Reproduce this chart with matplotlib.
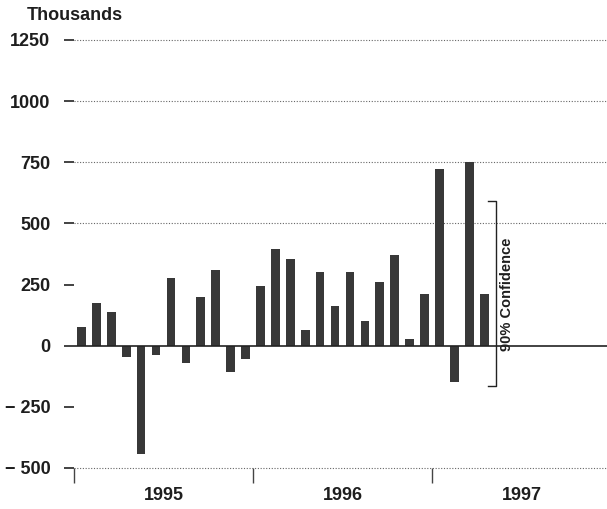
import numpy as np
import pandas as pd
import matplotlib
matplotlib.use('Agg')
import matplotlib.pyplot as plt

# monthly change, thousands (Jan 1995 - Apr 1997)
months = pd.period_range('1995-01', '1997-04', freq='M')
changes = [75, 173, 137, -45, -443, -39, 276, -71, 199, 308, -109, -54,
           243, 396, 356, 65, 302, 161, 300, 102, 262, 371, 29, 213,
           724, -150, 752, 212]
years = ['1995', '1996', '1997']
y_ticks = [-500, -250, 0, 250, 500, 750, 1000, 1250]
grid_levels = [-500, 500, 750, 1000, 1250]

# 90% confidence band drawn around the latest month
conf_center = changes[-1]
conf_half = 378

plt.rcParams['font.family'] = ['Liberation Sans', 'DejaVu Sans']
plt.rcParams['font.weight'] = 'bold'
text_color = '#1e1e1e'

fig = plt.figure(figsize=(6.07, 5.09), dpi=100)
ax = fig.add_axes([74 / 607, 1 - 468 / 509, 533 / 607, 428 / 509])

x = np.arange(len(months)) + 0.5
ax.bar(x, changes, width=0.58, color='#383838', zorder=3)

ax.set_xlim(0, 533 / (358 / 24))
ax.set_ylim(-500, 1250)

for lvl in grid_levels:
    ax.axhline(lvl, color='#666666', linestyle=(0, (1, 1.5)), linewidth=0.8,
               zorder=1, clip_on=False)
ax.axhline(0, color='#222222', linewidth=1.2, zorder=4)

for s in ax.spines.values():
    s.set_visible(False)

ax.set_yticks(y_ticks)
ax.set_yticklabels([f'{v:d}'.replace('-', '\u2212 ') for v in y_ticks])
ax.tick_params(axis='y', length=7, width=1.2, color='#222222', pad=10,
               labelsize=13, labelcolor=text_color)

# year separators as major ticks, year names centred as minor ticks
ax.set_xticks([0, 12, 24])
ax.set_xticklabels([])
ax.set_xticks([6, 18, 30], minor=True)
ax.set_xticklabels(years, minor=True)
ax.tick_params(axis='x', which='major', length=11, width=1.0, color='#444444')
ax.tick_params(axis='x', which='minor', length=0, pad=14, labelsize=13,
               labelcolor=text_color)

# confidence bracket
bx = 28.3
lo, hi = conf_center - conf_half, conf_center + conf_half
ax.plot([bx - 0.55, bx, bx, bx - 0.55], [hi, hi, lo, lo], color='#222222',
        linewidth=1.0, zorder=5, clip_on=False)
ax.text(bx + 0.7, conf_center, '90% Confidence', rotation=90, ha='center',
        va='center', fontsize=10.5, color=text_color)

fig.text(27 / 607, 1 - 15 / 509, 'Thousands', ha='left', va='center',
         fontsize=13, color=text_color)

fig.savefig('out.png', dpi=100)
